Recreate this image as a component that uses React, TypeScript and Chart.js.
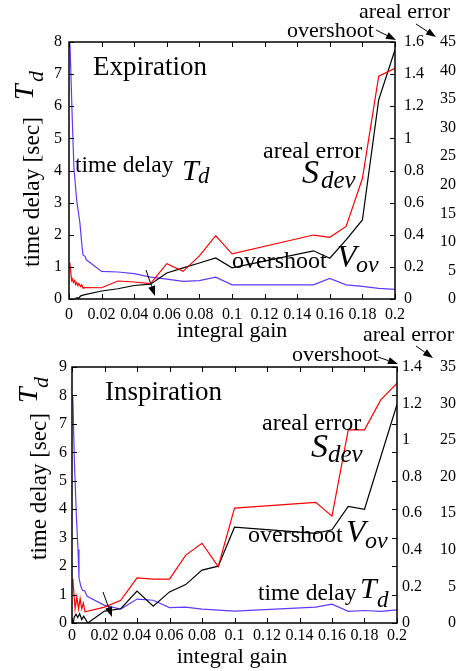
import React, { useEffect, useRef } from "react";
import { Chart, registerables } from "chart.js";
Chart.register(...registerables);

const SERIF = "'Liberation Serif', 'Times New Roman', serif";
const RED = "#ff0000";
const BLUE = "#6238ff";
const BLACK = "#000000";

// ---------- Expiration (top) ----------
const expDelayX = [0.0006, 0.002, 0.003, 0.0047, 0.0067, 0.008, 0.0086, 0.0098, 0.0106, 0.02, 0.03, 0.04, 0.05, 0.06, 0.07, 0.08, 0.09, 0.1, 0.15, 0.16, 0.17, 0.18, 0.19, 0.2];
const expDelayY = [7.95, 5.6, 4.1, 3.08, 2.36, 1.63, 1.37, 1.33, 1.22, 0.86, 0.84, 0.79, 0.68, 0.62, 0.55, 0.57, 0.68, 0.44, 0.44, 0.64, 0.44, 0.39, 0.33, 0.3];
const expErrorX = [0.0005, 0.0016, 0.002, 0.0027, 0.0035, 0.0041, 0.0047, 0.0055, 0.0061, 0.0072, 0.0078, 0.0086, 0.0092, 0.02, 0.03, 0.04, 0.05, 0.06, 0.07, 0.08, 0.09, 0.1, 0.15, 0.16, 0.17, 0.18, 0.19, 0.2];
const expErrorY = [6.36, 3.26, 3.54, 2.87, 3.26, 2.53, 2.87, 2.31, 2.7, 2.19, 2.48, 1.91, 2.0, 1.97, 3.15, 2.98, 2.7, 6.19, 4.84, 7.54, 11.1, 7.9, 11.2, 10.8, 12.7, 21.1, 39.0, 40.4];
const expOverX = [0.0035, 0.005, 0.006, 0.007, 0.0085, 0.02, 0.03, 0.04, 0.05, 0.06, 0.07, 0.08, 0.09, 0.1, 0.15, 0.16, 0.17, 0.18, 0.19, 0.2];
const expOverY = [0, 0.008, 0.004, 0.018, 0.024, 0.05, 0.064, 0.084, 0.092, 0.162, 0.194, 0.224, 0.256, 0.194, 0.3, 0.254, 0.368, 0.492, 1.24, 1.552];
const expDelayMax = 8;
const expOverMax = 1.6;
const expErrorMax = 45;

// ---------- Inspiration (bottom) ----------
const insDelayX = [0.0005, 0.0015, 0.0027, 0.0037, 0.0043, 0.0055, 0.0065, 0.0078, 0.0093, 0.02, 0.03, 0.04, 0.05, 0.06, 0.07, 0.08, 0.09, 0.1, 0.15, 0.16, 0.17, 0.18, 0.19, 0.2];
const insDelayY = [8.0, 5.6, 3.75, 2.58, 1.58, 1.27, 1.15, 1.13, 0.94, 0.62, 0.49, 0.84, 0.8, 0.54, 0.56, 0.49, 0.45, 0.42, 0.56, 0.66, 0.41, 0.44, 0.41, 0.46];
const insErrorX = [0.0005, 0.0019, 0.003, 0.004, 0.005, 0.006, 0.007, 0.008, 0.02, 0.03, 0.04, 0.05, 0.06, 0.07, 0.08, 0.09, 0.1, 0.15, 0.16, 0.17, 0.18, 0.19, 0.2];
const insErrorY = [6.07, 1.94, 3.58, 1.94, 3.34, 1.94, 2.72, 1.52, 2.18, 3.11, 6.18, 5.99, 5.99, 9.29, 10.9, 7.7, 15.7, 16.5, 14.6, 26.4, 26.4, 30.5, 32.8];
const insOverX = [0.0008, 0.0014, 0.0025, 0.0035, 0.0047, 0.006, 0.0072, 0.0097, 0.02, 0.03, 0.04, 0.05, 0.06, 0.07, 0.08, 0.09, 0.1, 0.15, 0.16, 0.17, 0.18, 0.2];
const insOverY = [0, 0.033, 0.048, 0.03, 0.051, 0.019, 0.037, 0, 0.065, 0.078, 0.174, 0.092, 0.17, 0.21, 0.289, 0.311, 0.524, 0.49, 0.51, 0.638, 0.622, 1.195];
const insDelayMax = 9;
const insOverMax = 1.4;
const insErrorMax = 35;

const gainMax = 0.2;
const gainStep = 0.02;

const pts = (xs: number[], ys: number[]) => xs.map((x, i) => ({ x, y: ys[i] }));
const fmt = (v: any) => String(parseFloat(Number(v).toFixed(3)));

type TextItem = { s: string; x: number; y: number; size: number; italic?: boolean; align?: CanvasTextAlign; rot?: boolean };
type ArrowItem = [number, number, number, number];

function drawArrow(ctx: CanvasRenderingContext2D, x1: number, y1: number, x2: number, y2: number) {
  const ang = Math.atan2(y2 - y1, x2 - x1);
  const len = 10, hw = 3.6;
  const bx = x2 - len * Math.cos(ang), by = y2 - len * Math.sin(ang);
  ctx.beginPath();
  ctx.moveTo(x1, y1);
  ctx.lineTo(bx, by);
  ctx.stroke();
  ctx.beginPath();
  ctx.moveTo(x2, y2);
  ctx.lineTo(bx + hw * Math.sin(ang), by - hw * Math.cos(ang));
  ctx.lineTo(bx - hw * Math.sin(ang), by + hw * Math.cos(ang));
  ctx.closePath();
  ctx.fill();
}

function annotPlugin(texts: TextItem[], arrows: ArrowItem[]) {
  return {
    id: "annot",
    afterDraw(chart: any) {
      const ctx = chart.ctx as CanvasRenderingContext2D;
      ctx.save();
      ctx.fillStyle = "#000";
      ctx.strokeStyle = "#000";
      ctx.lineWidth = 1;
      ctx.textBaseline = "alphabetic";
      for (const t of texts) {
        ctx.font = `${t.italic ? "italic " : ""}${t.size}px ${SERIF}`;
        ctx.textAlign = t.align || "left";
        if (t.rot) {
          ctx.save();
          ctx.translate(t.x, t.y);
          ctx.rotate(-Math.PI / 2);
          ctx.fillText(t.s, 0, 0);
          ctx.restore();
        } else {
          ctx.fillText(t.s, t.x, t.y);
        }
      }
      for (const a of arrows) drawArrow(ctx, a[0], a[1], a[2], a[3]);
      ctx.restore();
    },
  };
}

const framePlugin = {
  id: "frame",
  afterDatasetsDraw(chart: any) {
    const { ctx, chartArea: a, scales } = chart;
    ctx.save();
    ctx.strokeStyle = "#000";
    ctx.lineWidth = 1.5;
    ctx.strokeRect(a.left, a.top, a.right - a.left, a.bottom - a.top);
    ctx.lineWidth = 1;
    const L = 5;
    ctx.beginPath();
    for (const t of scales.x.ticks) {
      const px = Math.round(scales.x.getPixelForValue(t.value)) + 0.5;
      ctx.moveTo(px, a.bottom);
      ctx.lineTo(px, a.bottom - L);
      ctx.moveTo(px, a.top);
      ctx.lineTo(px, a.top + L);
    }
    for (const t of scales.y.ticks) {
      const py = Math.round(scales.y.getPixelForValue(t.value)) + 0.5;
      ctx.moveTo(a.left, py);
      ctx.lineTo(a.left + L, py);
      ctx.moveTo(a.right, py);
      ctx.lineTo(a.right - L, py);
    }
    ctx.stroke();
    ctx.restore();
  },
};

type Geo = { padTop: number; xH: number; xPad: number; leftW: number; leftPad: number; r1W: number; r1Pad: number; r2W: number; r2Pad: number };

function makeConfig(
  delay: { x: number; y: number }[],
  over: { x: number; y: number }[],
  err: { x: number; y: number }[],
  maxes: [number, number, number],
  steps: [number, number, number],
  g: Geo,
  texts: TextItem[],
  arrows: ArrowItem[]
): any {
  const tickFont = { family: SERIF, size: 16 };
  const common = { grid: { display: false, drawTicks: false }, border: { display: false } };
  return {
    type: "line",
    data: {
      datasets: [
        { data: err, yAxisID: "y3", borderColor: RED, borderWidth: 1.2, pointRadius: 0, tension: 0 },
        { data: over, yAxisID: "y2", borderColor: BLACK, borderWidth: 1.2, pointRadius: 0, tension: 0 },
        { data: delay, yAxisID: "y", borderColor: BLUE, borderWidth: 1.2, pointRadius: 0, tension: 0 },
      ],
    },
    options: {
      responsive: false,
      animation: false,
      devicePixelRatio: 1,
      layout: { padding: { top: g.padTop, left: 0, right: 0, bottom: 0 } },
      plugins: { legend: { display: false }, tooltip: { enabled: false } },
      scales: {
        x: {
          type: "linear", min: 0, max: gainMax, ...common,
          ticks: { stepSize: gainStep, autoSkip: false, maxRotation: 0, minRotation: 0, font: tickFont, color: "#000", padding: g.xPad, callback: fmt },
          afterFit: (s: any) => { s.height = g.xH; },
        },
        y: {
          type: "linear", position: "left", min: 0, max: maxes[0], ...common,
          ticks: { stepSize: steps[0], font: tickFont, color: "#000", padding: g.leftPad, callback: fmt },
          afterFit: (s: any) => { s.width = g.leftW; },
        },
        y2: {
          type: "linear", position: "right", min: 0, max: maxes[1], ...common,
          ticks: { stepSize: steps[1], font: tickFont, color: "#000", padding: g.r1Pad, crossAlign: "near", callback: fmt },
          afterFit: (s: any) => { s.width = g.r1W; },
        },
        y3: {
          type: "linear", position: "right", min: 0, max: maxes[2], ...common,
          ticks: { stepSize: steps[2], font: tickFont, color: "#000", padding: g.r2Pad, crossAlign: "far", callback: fmt },
          afterFit: (s: any) => { s.width = g.r2W; },
        },
      },
    },
    plugins: [framePlugin, annotPlugin(texts, arrows)],
  };
}

const topTexts: TextItem[] = [
  { s: "Expiration", x: 93, y: 75, size: 27 },
  { s: "time delay", x: 75, y: 172, size: 23.5 },
  { s: "T", x: 182, y: 180, size: 30, italic: true },
  { s: "d", x: 198, y: 183, size: 23, italic: true },
  { s: "areal error", x: 263, y: 158, size: 24 },
  { s: "S", x: 302, y: 183, size: 34, italic: true },
  { s: "dev", x: 321, y: 188, size: 25, italic: true },
  { s: "overshoot", x: 232, y: 268, size: 24 },
  { s: "V", x: 337, y: 267, size: 32, italic: true },
  { s: "ov", x: 356, y: 272, size: 24, italic: true },
  { s: "areal error", x: 359, y: 18, size: 22 },
  { s: "overshoot", x: 287, y: 37, size: 22 },
  { s: "integral gain", x: 232, y: 337, size: 22, align: "center" },
  { s: "time delay [sec]", x: 38.5, y: 267, size: 23.5, rot: true },
  { s: "T", x: 33, y: 100, size: 28, italic: true, rot: true },
  { s: "d", x: 43, y: 82, size: 22, italic: true, rot: true },
];
const topArrows: ArrowItem[] = [
  [376, 30, 396, 40],
  [416, 24, 436, 37],
  [146, 270, 155, 296],
];

const botTexts: TextItem[] = [
  { s: "Inspiration", x: 105, y: 75, size: 27 },
  { s: "areal error", x: 262, y: 105, size: 24 },
  { s: "S", x: 311, y: 132, size: 34, italic: true },
  { s: "dev", x: 328, y: 137, size: 25, italic: true },
  { s: "overshoot", x: 248, y: 217, size: 24 },
  { s: "V", x: 346, y: 217, size: 32, italic: true },
  { s: "ov", x: 365, y: 223, size: 24, italic: true },
  { s: "time delay", x: 258, y: 275, size: 23.5 },
  { s: "T", x: 360, y: 273, size: 30, italic: true },
  { s: "d", x: 377, y: 282, size: 23, italic: true },
  { s: "areal error", x: 363, y: 16, size: 22 },
  { s: "overshoot", x: 292, y: 36, size: 22 },
  { s: "integral gain", x: 232, y: 338, size: 22, align: "center" },
  { s: "time delay [sec]", x: 46, y: 235, size: 23, rot: true },
  { s: "T", x: 37, y: 78, size: 28, italic: true, rot: true },
  { s: "d", x: 48, y: 63, size: 22, italic: true, rot: true },
];
const botArrows: ArrowItem[] = [
  [378, 32, 398, 39],
  [416, 21, 433, 33],
  [103, 267, 112, 292],
];

const TOP_H = 345;
const BOT_TOP = 325;
const BOT_H = 346;

function ChartCanvas({ makeCfg, top, height }: { makeCfg: () => any; top: number; height: number }) {
  const ref = useRef<HTMLCanvasElement | null>(null);
  useEffect(() => {
    const chart = new Chart(ref.current as HTMLCanvasElement, makeCfg());
    return () => chart.destroy();
  }, []);
  return (
    <canvas
      ref={ref}
      width={456}
      height={height}
      style={{ position: "absolute", left: 0, top, width: 456, height }}
    />
  );
}

export default function App() {
  return (
    <div style={{ position: "absolute", left: 0, top: 0, width: 456, height: 671, background: "#fff", overflow: "hidden" }}>
      <ChartCanvas
        top={0}
        height={TOP_H}
        makeCfg={() =>
          makeConfig(
            pts(expDelayX, expDelayY),
            pts(expOverX, expOverY),
            pts(expErrorX, expErrorY),
            [expDelayMax, expOverMax, expErrorMax],
            [1, 0.2, 5],
            { padTop: 42, xH: 46, xPad: 6, leftW: 69, leftPad: 7, r1W: 39, r1Pad: 9, r2W: 22, r2Pad: 1 },
            topTexts,
            topArrows
          )
        }
      />
      <ChartCanvas
        top={BOT_TOP}
        height={BOT_H}
        makeCfg={() =>
          makeConfig(
            pts(insDelayX, insDelayY),
            pts(insOverX, insOverY),
            pts(insErrorX, insErrorY),
            [insDelayMax, insOverMax, insErrorMax],
            [1, 0.2, 5],
            { padTop: 42, xH: 48, xPad: 3, leftW: 72, leftPad: 5, r1W: 35, r1Pad: 5, r2W: 24, r2Pad: 0 },
            botTexts,
            botArrows
          )
        }
      />
    </div>
  );
}
